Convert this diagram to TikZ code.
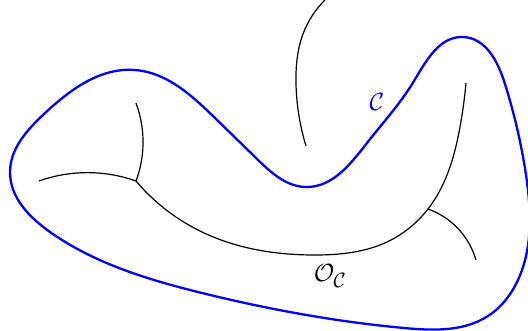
\documentclass[tikz,border=0pt]{standalone}
\usetikzlibrary{hobby}
\begin{document}
\begin{tikzpicture}[x=1pt,y=-1pt,
  bluecurve/.style={draw=blue,line width=2.3pt},
  blackcurve/.style={draw=black,line width=1.2pt},
  lbl/.style={font=\fontsize{28}{30}\selectfont}]
\useasboundingbox (0,0) rectangle (528,330);
\draw[bluecurve,use Hobby shortcut,closed=true]
 (135,70) .. (215,118) .. (256,158) .. (306,187) .. (367,143) .. (414,81) .. (463,37) .. (505,84)
 .. (526,175) .. (522,270) .. (488,316) .. (404,328) .. (202,293)
 .. (50,232) .. (10,172) .. (44,114);
% top curve
\draw[blackcurve,use Hobby shortcut] (325,0) .. (303,34) .. (296,84) .. (306,146);
% left tree
\coordinate (J1) at (136,181);
\coordinate (J2) at (428,209);
\draw[blackcurve,use Hobby shortcut] (136,103) .. (143,145) .. (J1);
\draw[blackcurve,use Hobby shortcut] (39,181) .. (77,173) .. (J1);
\draw[blackcurve,use Hobby shortcut] (J1) .. (202,232) .. (316,255) .. (387,242) .. (J2) .. (450,167) .. (460,127) .. (466,83);
\draw[blackcurve,use Hobby shortcut] (J2) .. (451,222) .. (476,260);
\node[lbl,text=blue] (C) at (377,102) {$\mathcal{C}$};
\node[lbl] (OC) at (330,276) {$\mathcal{O}_{\mathcal{C}}$};
\end{tikzpicture}
\end{document}
